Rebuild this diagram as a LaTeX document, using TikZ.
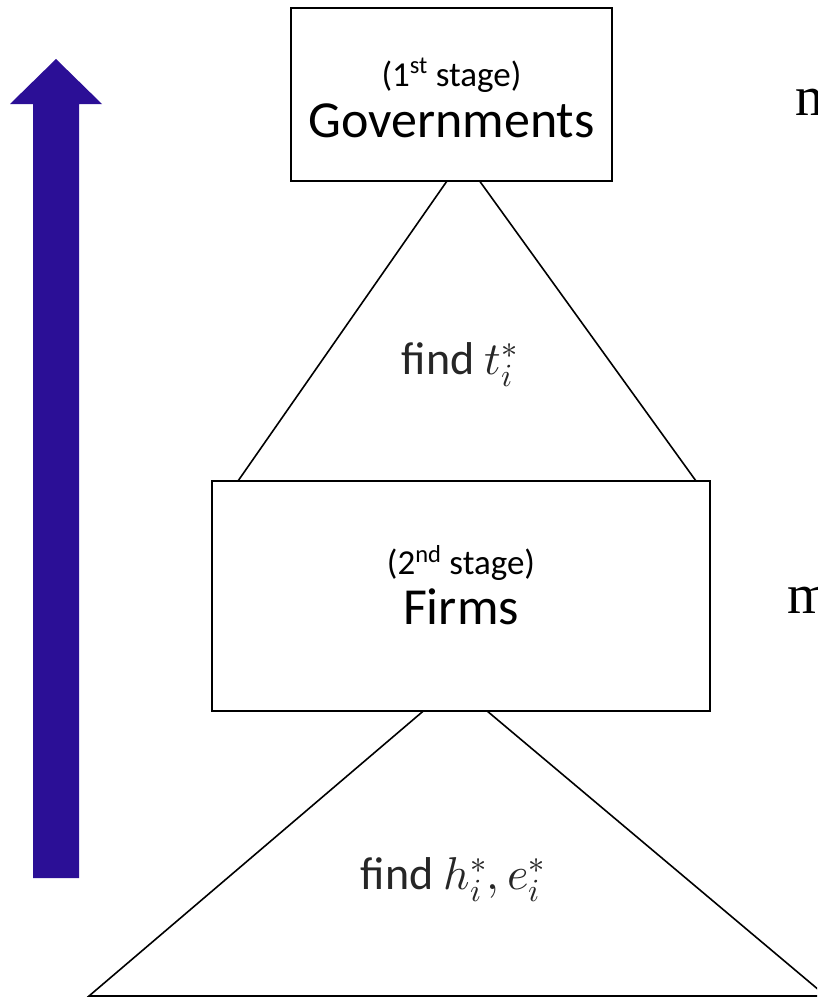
\documentclass[tikz,border=0pt]{standalone}
\usepackage{fontspec}
\usepackage{unicode-math}
\setmainfont{Carlito}
\newfontfamily\serifm{Liberation Serif}
\definecolor{arrowblue}{RGB}{43,15,150}
\definecolor{findgray}{RGB}{38,38,38}
\tikzset{
  stagebox/.style={draw=black, line width=1.6pt, fill=white, align=center, inner sep=0pt},
  tri/.style={draw=black, line width=1.6pt, line join=miter},
  lbl/.style={font=\fontsize{35}{40}\selectfont},
  big/.style={font=\fontsize{52}{58}\selectfont},
  findtxt/.style={font=\fontsize{46}{50}\selectfont, inner sep=0pt, text=findgray},
  cut/.style={font=\serifm\fontsize{56}{60}\selectfont, inner sep=0pt, anchor=base west}
}
\begin{document}
\begin{tikzpicture}[x=1pt,y=-1pt]
\useasboundingbox (0,0) rectangle (817,998);
\clip (0,0) rectangle (817,998);
% triangles
\coordinate (ta) at (463,158);
\coordinate (tl) at (238,481);
\coordinate (tr) at (696,481);
\draw[tri] (tl) -- (ta) -- (tr);
\coordinate (ba) at (455,684);
\coordinate (bl) at (89,996);
\coordinate (br) at (826,996);
\draw[tri] (bl) -- (ba) -- (br) -- cycle;
% boxes
\node[stagebox, minimum width=321pt, minimum height=173pt] (gov) at (451.5,94.5) {};
\node[lbl] (govl) at (451.5,75) {(1\textsuperscript{st} stage)};
\node[big] (govt) at (451.5,121) {Governments};
\node[stagebox, minimum width=498pt, minimum height=230pt] (firms) at (461,596) {};
\node[lbl] (firmsl) at (461,563) {(2\textsuperscript{nd} stage)};
\node[big] (firmst) at (461,607) {Firms};
% find labels
\node[findtxt] (findt) at (460,365) {find $t_i^*$};
\node[findtxt] (findh) at (453,880) {find $h_i^*, e_i^*$};
% arrow
\fill[arrowblue] (33,878) -- (33,104) -- (10,104) -- (56,59) -- (102,104) -- (79,104) -- (79,878) -- cycle;
% cut-off text at right edge
\node[cut] (m1) at (795,115) {m};
\node[cut] (m2) at (787,613) {m};
\end{tikzpicture}
\end{document}
